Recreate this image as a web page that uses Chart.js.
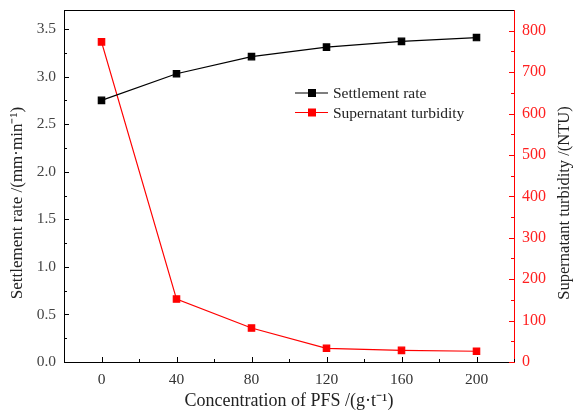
<!DOCTYPE html>
<html>
<head>
<meta charset="utf-8">
<script src="https://cdn.jsdelivr.net/npm/chart.js@4"></script>
<style>
  html, body { margin: 0; padding: 0; background: #fff; }
  #wrap { width: 576px; height: 412px; }
</style>
</head>
<body>
<div id="wrap"><canvas id="chart"></canvas></div>
<script>
const concentration = [0, 40, 80, 120, 160, 200];
const settlementRate = [2.75, 3.03, 3.21, 3.31, 3.37, 3.41];
const turbidity = [773, 152, 82, 33, 28, 26];

const xTicks = [0, 40, 80, 120, 160, 200];
const leftTicks = [0, 0.5, 1, 1.5, 2, 2.5, 3, 3.5];
const rightTicks = [0, 100, 200, 300, 400, 500, 600, 700, 800];

const leftTitle = 'Settlement rate /(mm·min⁻¹)';
const rightTitle = 'Supernatant turbidity /(NTU)';

const serif = '"Liberation Serif", "Times New Roman", serif';

// inward tick marks, major + minor, drawn on each axis line
const innerTicks = {
    id: 'innerTicks',
    afterDraw(chart) {
        const ctx = chart.ctx;
        const area = chart.chartArea;
        const sets = [
            { scale: chart.scales.x, step: 20, major: 40, color: '#000', side: 'bottom' },
            { scale: chart.scales.y, step: 0.25, major: 0.5, color: '#000', side: 'left' },
            { scale: chart.scales.y1, step: 50, major: 100, color: '#ff0000', side: 'right' }
        ];
        ctx.save();
        ctx.lineWidth = 1;
        sets.forEach(s => {
            const sc = s.scale;
            ctx.strokeStyle = s.color;
            const n = Math.floor(sc.max / s.step);
            for (let i = Math.ceil(sc.min / s.step); i <= n; i++) {
                const v = i * s.step;
                const isMajor = Math.abs(v / s.major - Math.round(v / s.major)) < 1e-6;
                const len = isMajor ? 5 : 3;
                const p = Math.round(sc.getPixelForValue(v)) + 0.5;
                ctx.beginPath();
                if (s.side === 'bottom') {
                    ctx.moveTo(p, area.bottom);
                    ctx.lineTo(p, area.bottom - len);
                } else if (s.side === 'left') {
                    ctx.moveTo(area.left, p);
                    ctx.lineTo(area.left + len, p);
                } else {
                    ctx.moveTo(area.right, p);
                    ctx.lineTo(area.right - len, p);
                }
                ctx.stroke();
            }
        });
        // top frame line
        ctx.strokeStyle = '#000';
        ctx.beginPath();
        ctx.moveTo(area.left, area.top + 0.5);
        ctx.lineTo(area.right, area.top + 0.5);
        ctx.stroke();
        ctx.restore();
    }
};

// both y titles read bottom-to-top, like the original
const yTitles = {
    id: 'yTitles',
    afterDraw(chart) {
        const ctx = chart.ctx;
        const area = chart.chartArea;
        const cy = (area.top + area.bottom) / 2 + 17;
        ctx.save();
        ctx.textAlign = 'center';
        ctx.textBaseline = 'middle';
        [[18, leftTitle, 17], [565, rightTitle, 16.5]].forEach(([x, text, size]) => {
            ctx.save();
            ctx.translate(x, cy);
            ctx.rotate(-Math.PI / 2);
            ctx.font = size + 'px ' + serif;
            ctx.fillStyle = '#222';
            ctx.fillText(text, 0, 0);
            ctx.restore();
        });
        ctx.restore();
    }
};

// legend inside the plot area
const innerLegend = {
    id: 'innerLegend',
    afterDraw(chart) {
        const ctx = chart.ctx;
        const x0 = 295, y0 = 93, gap = 19.5;
        ctx.save();
        ctx.font = '15.5px ' + serif;
        ctx.textBaseline = 'middle';
        chart.data.datasets.forEach((ds, i) => {
            const y = y0 + i * gap;
            ctx.strokeStyle = ds.borderColor;
            ctx.lineWidth = 1.2;
            ctx.beginPath();
            ctx.moveTo(x0, y);
            ctx.lineTo(x0 + 33, y);
            ctx.stroke();
            ctx.fillStyle = ds.pointBackgroundColor;
            ctx.fillRect(x0 + 13, y - 4, 8, 8);
            ctx.fillStyle = '#222';
            ctx.fillText(ds.label, x0 + 38, y + 1);
        });
        ctx.restore();
    }
};

const fitY = w => s => {
    s.width = w;
    s.paddingTop = 0;
    s.paddingBottom = 0;
};

new Chart(document.getElementById('chart'), {
    type: 'line',
    data: {
        datasets: [{
            label: 'Settlement rate',
            data: concentration.map((c, i) => ({ x: c, y: settlementRate[i] })),
            borderColor: '#000',
            backgroundColor: '#000',
            pointBackgroundColor: '#000',
            pointBorderColor: '#000',
            pointStyle: 'rect',
            pointRadius: 4.5,
            borderWidth: 1.2,
            yAxisID: 'y'
        }, {
            label: 'Supernatant turbidity',
            data: concentration.map((c, i) => ({ x: c, y: turbidity[i] })),
            borderColor: '#ff0000',
            backgroundColor: '#ff0000',
            pointBackgroundColor: '#ff0000',
            pointBorderColor: '#ff0000',
            pointStyle: 'rect',
            pointRadius: 4.5,
            borderWidth: 1.2,
            yAxisID: 'y1'
        }]
    },
    options: {
        responsive: true,
        maintainAspectRatio: false,
        animation: false,
        layout: { padding: { top: 10, left: 0, right: 0, bottom: 0 } },
        plugins: {
            legend: { display: false },
            tooltip: { enabled: false }
        },
        scales: {
            x: {
                type: 'linear',
                min: -20,
                max: 220,
                afterFit: s => {
                    s.height = 50;
                    s.paddingLeft = 0;
                    s.paddingRight = 0;
                },
                afterBuildTicks: s => { s.ticks = xTicks.map(v => ({ value: v })); },
                grid: { drawOnChartArea: false, drawTicks: false },
                border: { color: '#000', width: 1 },
                ticks: {
                    color: '#333',
                    font: { family: serif, size: 15.5 },
                    padding: 9
                },
                title: {
                    display: true,
                    text: 'Concentration of PFS /(g·t⁻¹)',
                    color: '#222',
                    font: { family: serif, size: 18 },
                    padding: { top: 1, bottom: 0 }
                }
            },
            y: {
                position: 'left',
                min: 0,
                max: 3.7,
                afterFit: fitY(64),
                afterBuildTicks: s => { s.ticks = leftTicks.map(v => ({ value: v })); },
                grid: { drawOnChartArea: false, drawTicks: false },
                border: { color: '#000', width: 1 },
                ticks: {
                    color: '#444',
                    font: { family: serif, size: 15.5 },
                    padding: 8,
                    callback: v => v.toFixed(1)
                },
                title: { display: false }
            },
            y1: {
                position: 'right',
                min: 0,
                max: 850,
                afterFit: fitY(62),
                afterBuildTicks: s => { s.ticks = rightTicks.map(v => ({ value: v })); },
                grid: { drawOnChartArea: false, drawTicks: false },
                border: { color: '#ff0000', width: 1 },
                ticks: {
                    color: '#ff2020',
                    font: { family: serif, size: 16 },
                    padding: 8
                },
                title: { display: false }
            }
        }
    },
    plugins: [innerTicks, yTitles, innerLegend]
});
</script>
</body>
</html>
